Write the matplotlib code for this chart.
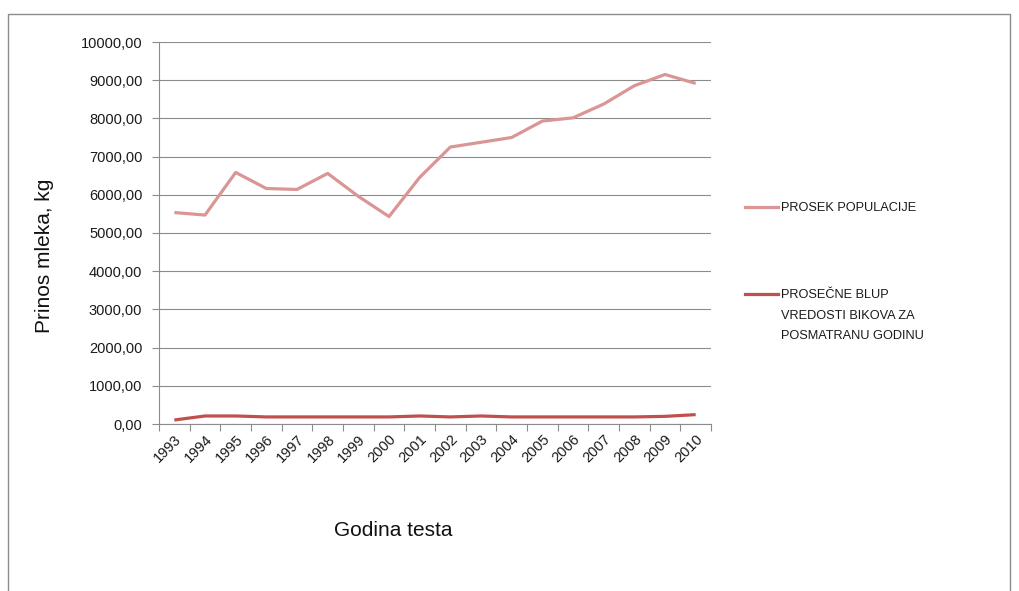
import matplotlib
matplotlib.use("Agg")
import matplotlib.pyplot as plt
from matplotlib.lines import Line2D
from matplotlib.patches import Rectangle
from matplotlib.ticker import FuncFormatter, FixedLocator

plt.rcParams['font.family'] = ['Liberation Sans', 'DejaVu Sans']

years = ['1993', '1994', '1995', '1996', '1997', '1998', '1999', '2000', '2001',
         '2002', '2003', '2004', '2005', '2006', '2007', '2008', '2009', '2010']
prosek_populacije = [5535, 5470, 6585, 6165, 6140, 6560, 5960, 5430, 6455,
                     7250, 7375, 7500, 7930, 8015, 8375, 8855, 9150, 8915]
blup_bikova = [105, 210, 210, 185, 185, 185, 185, 185, 210,
               185, 210, 185, 185, 185, 185, 185, 200, 245]
series_names = ['PROSEK POPULACIJE', 'PROSEČNE BLUP\nVREDOSTI BIKOVA ZA\nPOSMATRANU GODINU']
colors = ['#D99694', '#C0504D']

W, H = 1019, 591
fig = plt.figure(figsize=(W / 100, H / 100), dpi=100)
ax = fig.add_axes([159 / W, 1 - 424 / H, (711 - 159) / W, (424 - 42) / H])

x = list(range(len(years)))
ax.plot(x, prosek_populacije, color=colors[0], lw=2.3, solid_capstyle='butt', zorder=3)
ax.plot(x, blup_bikova, color=colors[1], lw=2.3, solid_capstyle='butt', zorder=3)

ax.set_xlim(-0.5, len(years) - 0.5)
ax.set_ylim(0, 10000)
ax.set_yticks(range(0, 10001, 1000))
ax.yaxis.set_major_formatter(FuncFormatter(lambda v, p: f"{v:.2f}".replace('.', ',')))
ax.grid(axis='y', color='#8c8c8c', lw=0.8)
ax.set_axisbelow(True)

ax.set_xticks(x)
ax.set_xticklabels(years, rotation=45, ha='right', rotation_mode='anchor', fontsize=10.5, color='#1a1a1a')
ax.tick_params(axis='x', which='major', length=0, pad=6)
ax.xaxis.set_minor_locator(FixedLocator([i - 0.5 for i in range(len(years) + 1)]))
ax.tick_params(axis='x', which='minor', length=5, color='#8c8c8c', width=0.8)
ax.tick_params(axis='y', length=5, color='#8c8c8c', width=0.8, labelsize=10.5, labelcolor='#1a1a1a', pad=7)

for s in ['top', 'right']:
    ax.spines[s].set_visible(False)
for s in ['left', 'bottom']:
    ax.spines[s].set_color('#8c8c8c')
    ax.spines[s].set_linewidth(0.8)

fig.text(45 / W, 1 - 256 / H, 'Prinos mleka, kg', rotation=90, ha='center', va='center',
         fontsize=15, color='#111111')
fig.text(393 / W, 1 - 530 / H, 'Godina testa', ha='center', va='center', fontsize=15, color='#111111')

# legend
leg_y = [207, 294]
for name, col, yy in zip(series_names, colors, leg_y):
    fig.add_artist(Line2D([745 / W, 778 / W], [1 - yy / H, 1 - yy / H], color=col, lw=2.3,
                          transform=fig.transFigure))
    fig.text(781 / W, 1 - (yy - 5) / H, name, ha='left', va='top', fontsize=9.2,
             color='#1a1a1a', linespacing=1.95)

fig.add_artist(Rectangle((8 / W, -0.05), (1010 - 8) / W, (1 - 14 / H) + 0.05,
                         transform=fig.transFigure, fill=False, edgecolor='#8c8c8c', lw=1))

fig.savefig('out.png', dpi=100)
